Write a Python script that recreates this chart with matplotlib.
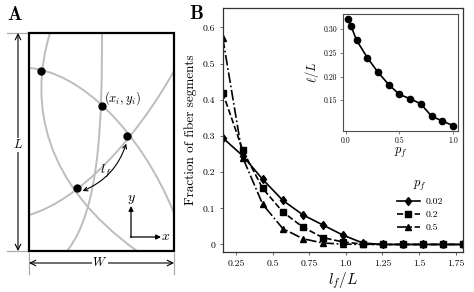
import numpy as np
import matplotlib
matplotlib.use('Agg')
import matplotlib.pyplot as plt
from matplotlib.path import Path
from matplotlib.patches import PathPatch, Rectangle, FancyArrowPatch

plt.rcParams['font.family'] = 'serif'
plt.rcParams['font.serif'] = ['cmr10']
plt.rcParams['mathtext.fontset'] = 'cm'
plt.rcParams['axes.formatter.use_mathtext'] = True
plt.rcParams['axes.unicode_minus'] = False

# ---- panel B data: fraction of fiber segments vs l_f/L
lf = [0.160, 0.297, 0.433, 0.570, 0.707, 0.843, 0.980, 1.117, 1.253, 1.390, 1.527, 1.663, 1.800]
frac_002 = [0.295, 0.245, 0.180, 0.122, 0.082, 0.054, 0.026, 0.004, 0, 0, 0, 0, 0]
frac_02 = [0.420, 0.260, 0.155, 0.090, 0.048, 0.019, 0.007, 0.001, 0, 0, 0, 0, 0]
frac_05 = [0.572, 0.240, 0.111, 0.044, 0.016, 0.004, 0.001, 0.0, 0, 0, 0, 0, 0]
pf_labels = ['0.02', '0.2', '0.5']

# inset: mean segment length vs p_f
pf = [0.02, 0.05, 0.1, 0.2, 0.3, 0.4, 0.5, 0.6, 0.7, 0.8, 0.9, 1.0]
ell = [0.321, 0.306, 0.277, 0.240, 0.209, 0.183, 0.162, 0.153, 0.142, 0.116, 0.106, 0.096]

xticks = [0.25, 0.5, 0.75, 1.0, 1.25, 1.5, 1.75]
xtick_lbl = ['0.25', '0.5', '0.75', '1.0', '1.25', '1.5', '1.75']
yticks = [0, 0.1, 0.2, 0.3, 0.4, 0.5, 0.6]
ytick_lbl = ['0', '0.1', '0.2', '0.3', '0.4', '0.5', '0.6']

# ---- panel A schematic (pixel coords, cubic bezier control points)
box = (29, 33, 174, 251)  # x0, y0, x1, y1
fibers = [
    [(29, 68), (80, 72), (140, 130), (174, 213)],
    [(50, 33), (28, 105), (45, 185), (137, 251)],
    [(102, 33), (102, 120), (100, 210), (67, 251)],
    [(29, 215), (80, 200), (135, 140), (174, 71)],
]
nodes = [(41, 70.5), (101.7, 105.7), (126.7, 136), (76.7, 188)]

fig = plt.figure(figsize=(4.74, 2.92), dpi=100)

# ===================== panel A
axA = fig.add_axes([0, 0, 200/474, 1])
axA.set_xlim(0, 200)
axA.set_ylim(292, 0)
axA.axis('off')
axA.patch.set_alpha(0)

codes = [Path.MOVETO, Path.CURVE4, Path.CURVE4, Path.CURVE4]
for f in fibers:
    axA.add_patch(PathPatch(Path(f, codes), fc='none', ec='#bdbdbd', lw=1.4, zorder=1))

axA.add_patch(Rectangle((box[0], box[1]), box[2]-box[0], box[3]-box[1],
                        fill=False, ec='black', lw=1.6, zorder=3))
nx, ny = zip(*nodes)
axA.plot(nx, ny, 'o', color='black', ms=5, zorder=4)

# dimension arrows
lbl_box = dict(fc='white', ec='none', pad=0.5)
axA.plot([7, 28], [box[1], box[1]], color='#aaaaaa', lw=0.9)
axA.plot([7, 28], [box[3], box[3]], color='#aaaaaa', lw=0.9)
axA.annotate('', xy=(18, box[1]), xytext=(18, box[3]),
             arrowprops=dict(arrowstyle='<->', lw=0.8, color='black', shrinkA=0, shrinkB=0))
axA.text(18, 145, '$L$', ha='center', va='center', fontsize=9, bbox=lbl_box)

axA.plot([box[0], box[0]], [253, 274], color='#aaaaaa', lw=0.9)
axA.plot([box[2], box[2]], [253, 274], color='#aaaaaa', lw=0.9)
axA.annotate('', xy=(box[0], 263), xytext=(box[2], 263),
             arrowprops=dict(arrowstyle='<->', lw=0.8, color='black', shrinkA=0, shrinkB=0))
axA.text(100, 263, '$W$', ha='center', va='center', fontsize=9, bbox=lbl_box)

# segment length arrow
axA.add_patch(FancyArrowPatch((127, 141), (80, 192), arrowstyle='<->', mutation_scale=7,
                              connectionstyle='arc3,rad=-0.25', lw=0.8, color='black', zorder=5))
axA.text(106, 171, '$l_f$', ha='center', va='center', fontsize=10)
axA.text(104, 98, '$(x_i,y_i)$', ha='left', va='center', fontsize=9)

# coordinate axes glyph
axA.annotate('', xy=(131, 206), xytext=(131, 237.5),
             arrowprops=dict(arrowstyle='-|>', lw=0.9, color='black', shrinkA=0, shrinkB=0, mutation_scale=7))
axA.annotate('', xy=(161, 237), xytext=(130.5, 237),
             arrowprops=dict(arrowstyle='-|>', lw=0.9, color='black', shrinkA=0, shrinkB=0, mutation_scale=7))
axA.text(131, 200, '$y$', ha='center', va='center', fontsize=10)
axA.text(166, 237, '$x$', ha='center', va='center', fontsize=10)

fig.text(15/474, 1-15/292, 'A', fontsize=14, fontname='cmb10', ha='center', va='center')
fig.text(196/474, 1-14/292, 'B', fontsize=14, fontname='cmb10', ha='center', va='center')

# ===================== panel B
ax = fig.add_axes([222.7/474, 1-251.7/292, (463-222.7)/474, (251.7-8.3)/292])
ax.plot(lf, frac_002, '-', marker='d', color='black', lw=1.2, ms=4.5, label=pf_labels[0])
ax.plot(lf, frac_02, '--', marker='s', color='black', lw=1.2, ms=4.5, label=pf_labels[1])
ax.plot(lf, frac_05, '-.', marker='^', color='black', lw=1.2, ms=4.5, label=pf_labels[2])
ax.set_xlim(0.16, 1.80)
ax.set_ylim(-0.02, 0.653)
ax.set_xticks(xticks)
ax.set_xticklabels(xtick_lbl)
ax.set_yticks(yticks)
ax.set_yticklabels(ytick_lbl)
ax.tick_params(labelsize=7, length=2.5, width=0.6, color='0.3', pad=3)
for s in ax.spines.values():
    s.set_linewidth(0.9)
    s.set_color('0.2')
ax.set_xlabel('$l_f/L$', fontsize=11, labelpad=2)
ax.set_ylabel('Fraction of fiber segments', fontsize=9.5, labelpad=4)
leg = ax.legend(title='$p_f$', frameon=False, fontsize=7, title_fontsize=9,
                loc='center', bbox_to_anchor=(420/474, 1-205/292), bbox_transform=fig.transFigure,
                handlelength=2.3, labelspacing=0.45, handletextpad=0.6)

# ===================== inset
axi = fig.add_axes([342.7/474, 1-131/292, (458.3-342.7)/474, (131-14)/292])
axi.plot(pf, ell, '-o', color='black', lw=1.2, ms=4.5)
axi.set_xticks([0.0, 0.5, 1.0])
axi.set_xticklabels(['0.0', '0.5', '1.0'])
axi.set_yticks([0.15, 0.20, 0.25, 0.30])
axi.set_yticklabels(['0.15', '0.20', '0.25', '0.30'])
axi.tick_params(labelsize=5.5, length=2, width=0.5, color='0.3', pad=2)
for s in axi.spines.values():
    s.set_linewidth(0.8)
    s.set_color('0.3')
axi.set_xlabel('$p_f$', fontsize=9, labelpad=1)
axi.set_ylabel(r'$\ell/L$', fontsize=9, labelpad=2)

fig.savefig('out.png', dpi=100)
